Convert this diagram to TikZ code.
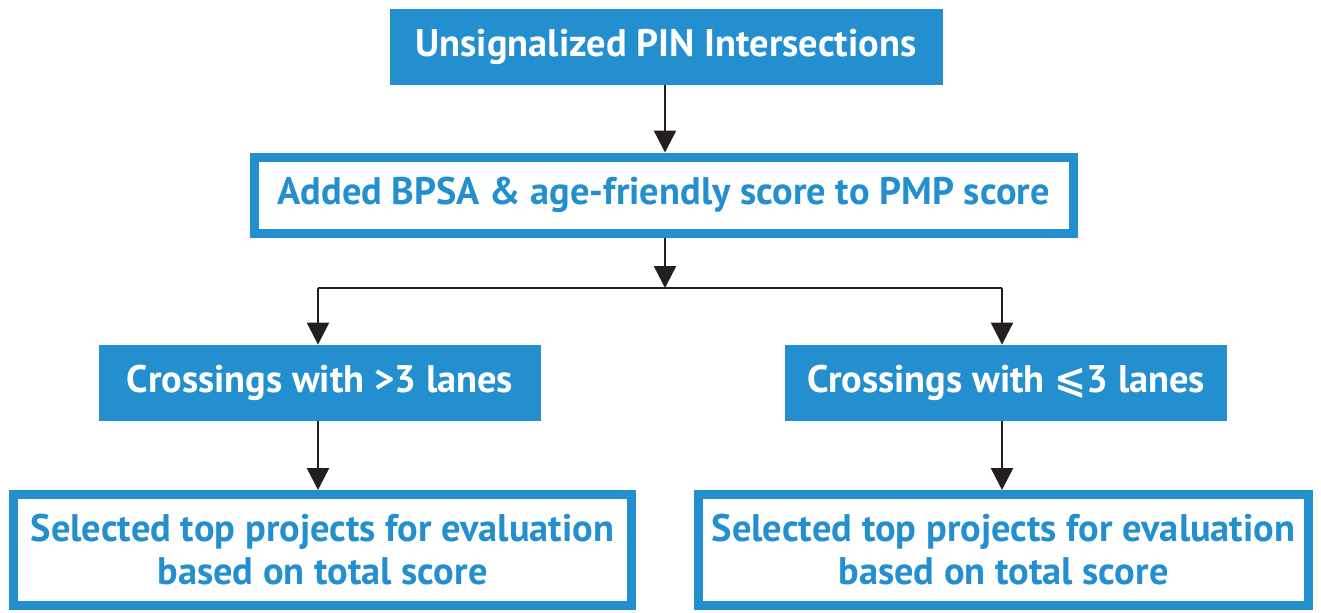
\documentclass[tikz,border=0pt]{standalone}
\usepackage{fontspec}
\setmainfont{PT Sans}
\newfontfamily\symfont{DejaVu Sans}
\usepackage{tikz}
\usetikzlibrary{arrows.meta, positioning}
\definecolor{pinBlue}{HTML}{248FCF}
\definecolor{arrowDark}{HTML}{231F20}

\begin{document}
\begin{tikzpicture}[x=0.5pt, y=-0.5pt,
	every node/.style={inner sep=0pt, font=\bfseries\fontsize{19.2}{21.5}\selectfont},
	fillbox/.style={fill=pinBlue, text=white, minimum height=38pt},
	linebox/.style={draw=pinBlue, line width=4.5pt, fill=white, text=pinBlue, align=center},
	flow/.style={draw=arrowDark, line width=1.25pt, -{Triangle[width=11pt, length=11pt]}}]
	\useasboundingbox (0,0) rectangle (1321,612);
	% top of the chart
	\node[fillbox, minimum width=276.5pt] (pin) at (666,47) {Unsignalized PIN Intersections};
	\node[linebox, minimum width=409.5pt, minimum height=38pt] (score) at (663.5,195) {Added BPSA \& age-friendly score to PMP score};
	% lane split
	\node[fillbox, minimum width=221pt] (wide) at (320,383) {Crossings with >3 lanes};
	\node[fillbox, minimum width=221pt] (narrow) at (1006,383) {Crossings with {\symfont\bfseries ⩽}3 lanes};
	\node[linebox, minimum width=309pt, minimum height=55.5pt] (topwide) at (322.5,550) {Selected top projects for evaluation\\ based on total score};
	\node[linebox, minimum width=305pt, minimum height=55.5pt] (topnarrow) at (1003.5,550) {Selected top projects for evaluation\\ based on total score};
	\coordinate (split) at (665,288);
	\coordinate (splitL) at (318,288);
	\coordinate (splitR) at (1002,288);

	\draw[flow] (pin.south -| split) -- (score.north -| split);
	\draw[flow] (score.south -| split) -- (split);
	\draw[draw=arrowDark, line width=1.25pt] (splitL) -- (splitR);
	\draw[flow] (splitL) -- (wide.north -| splitL);
	\draw[flow] (splitR) -- (narrow.north -| splitR);
	\draw[flow] (wide.south -| splitL) -- (topwide.north -| splitL);
	\draw[flow] (narrow.south -| splitR) -- (topnarrow.north -| splitR);

\end{tikzpicture}
\end{document}
